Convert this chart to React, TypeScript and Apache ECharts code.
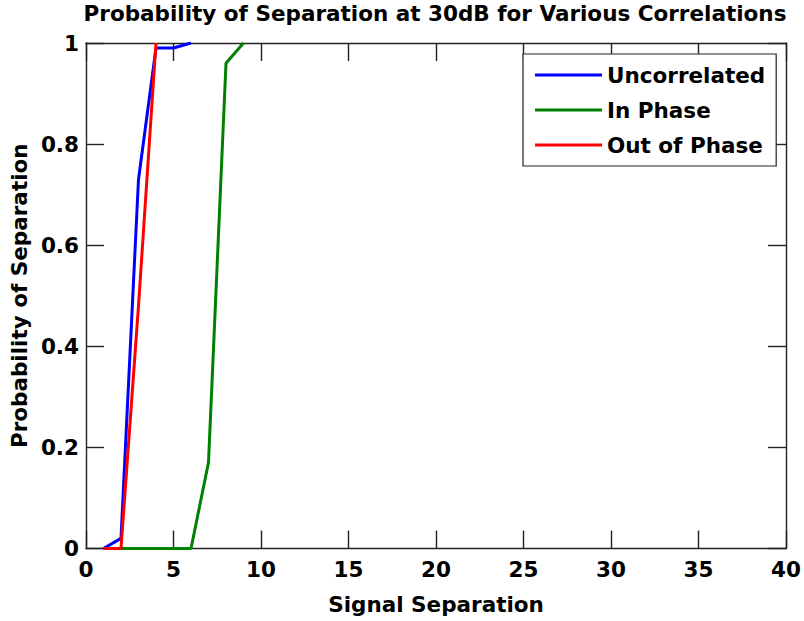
import React, { useEffect, useRef } from "react";
import * as echarts from "echarts";

// Signal separation values where each curve was sampled
const separations = [1, 2, 3, 4, 5, 6, 7, 8, 9];

// Probability of separation per correlation type (one value per separation, until it saturates)
const uncorrelated = [0, 0.02, 0.73, 0.99, 0.99, 1];
const inPhase = [0, 0, 0, 0, 0, 0, 0.17, 0.96, 1];
const outOfPhase = [0, 0, 0.48, 1];

const seriesNames = ["Uncorrelated", "In Phase", "Out of Phase"];
const seriesColors = ["#0000ff", "#008000", "#ff0000"];

const xTicks = { min: 0, max: 40, interval: 5 };
const yTicks = { min: 0, max: 1, interval: 0.2 };

const FONT = "DejaVu Sans";
const FS = 21.5;

const toPoints = (values: number[]) => values.map((v, i) => [separations[i], v]);

export default function App() {
  const ref = useRef<HTMLDivElement>(null);

  useEffect(() => {
    if (!ref.current) return;
    const chart = echarts.init(ref.current, undefined, { renderer: "svg" });
    const axisLine = { show: true, onZero: false, lineStyle: { color: "#222", width: 1.4 } };
    const axisTick = { show: true, inside: true, length: 18, lineStyle: { color: "#222", width: 1.4 } };
    const labelStyle = { color: "#000", fontFamily: FONT, fontWeight: "bold" as const, fontSize: FS };

    const allValues = [uncorrelated, inPhase, outOfPhase];

    chart.setOption({
      animation: false,
      backgroundColor: "#fff",
      title: {
        text: "Probability of Separation at 30dB for Various Correlations",
        left: 435,
        top: 2,
        padding: 0,
        textAlign: "center",
        textStyle: { ...labelStyle },
      },
      legend: {
        left: 523,
        top: 54,
        orient: "vertical",
        padding: [10, 11, 10, 12],
        itemWidth: 67,
        itemHeight: 3,
        itemGap: 13,
        icon: "rect",
        backgroundColor: "#fff",
        borderColor: "#222",
        borderWidth: 1.2,
        borderRadius: 0,
        textStyle: { ...labelStyle, lineHeight: 22, padding: [0, 0, 0, 0] },
        data: seriesNames,
      },
      grid: { left: 83.5, right: 16, top: 43, bottom: 72.5 },
      xAxis: [
        {
          type: "value",
          ...xTicks,
          position: "bottom",
          name: "Signal Separation",
          nameLocation: "middle",
          nameGap: 45,
          nameTextStyle: { ...labelStyle },
          axisLine,
          axisTick,
          axisLabel: { ...labelStyle, margin: 10 },
          splitLine: { show: false },
        },
        {
          type: "value",
          ...xTicks,
          position: "top",
          z: 3,
          axisLine,
          axisTick,
          axisLabel: { show: false },
          splitLine: { show: false },
        },
      ],
      yAxis: [
        {
          type: "value",
          ...yTicks,
          position: "left",
          name: "Probability of Separation",
          nameLocation: "middle",
          nameGap: 52,
          nameTextStyle: { ...labelStyle },
          axisLine,
          axisTick,
          axisLabel: { ...labelStyle, margin: 7 },
          splitLine: { show: false },
        },
        {
          type: "value",
          ...yTicks,
          position: "right",
          z: 3,
          axisLine,
          axisTick,
          axisLabel: { show: false },
          splitLine: { show: false },
        },
      ],
      series: seriesNames.map((name, i) => ({
        name,
        type: "line",
        xAxisIndex: 0,
        yAxisIndex: 0,
        data: toPoints(allValues[i]),
        showSymbol: false,
        symbol: "none",
        color: seriesColors[i],
        lineStyle: { color: seriesColors[i], width: 3 },
        clip: true,
      })),
    });

    return () => chart.dispose();
  }, []);

  return (
    <div
      ref={ref}
      style={{ position: "fixed", left: 0, top: 0, width: 804, height: 621 }}
    />
  );
}
